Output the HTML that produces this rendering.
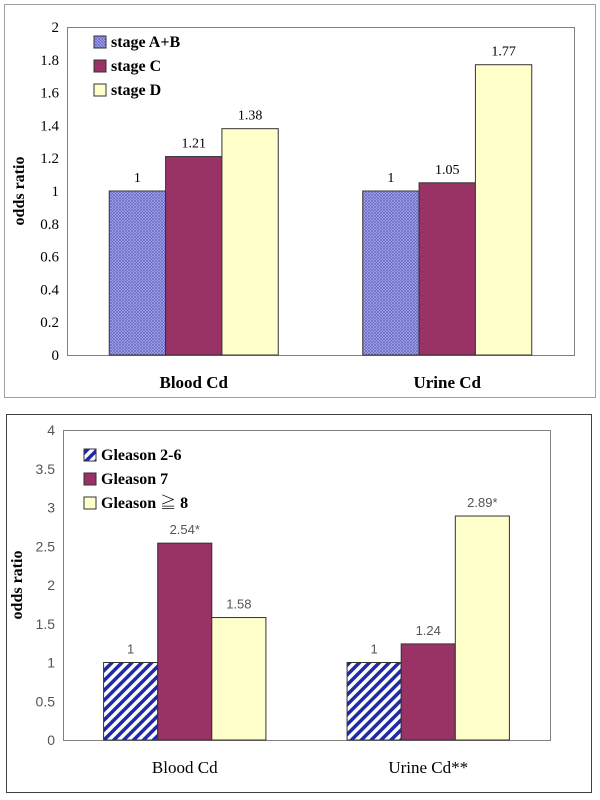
<!DOCTYPE html>
<html><head><meta charset="utf-8"><style>
html,body{margin:0;padding:0;background:#fff;}
svg{display:block;}
</style></head><body>
<svg id="c" width="600" height="800" viewBox="0 0 600 800" xmlns="http://www.w3.org/2000/svg">
<defs>
<pattern id="cross" width="3" height="3" patternUnits="userSpaceOnUse">
<rect width="3" height="3" fill="#b4b4f0"/>
<path d="M0,0 L3,3 M3,0 L0,3" stroke="#6b6bc8" stroke-width="0.8"/>
</pattern>
<pattern id="diag" width="7" height="7" patternUnits="userSpaceOnUse" patternTransform="rotate(45)">
<rect width="7" height="7" fill="#fff"/>
<rect width="3.5" height="7" fill="#1e2aa8"/>
</pattern>
</defs>
<rect x="4.5" y="4.5" width="591" height="393" fill="#fff" stroke="#a0a0a0"/>
<rect x="6.5" y="414.5" width="585" height="378" fill="#fff" stroke="#404040"/>
<g id="top"></g>
<g id="bot"></g>
</svg>
<script>
const categories = ["Blood Cd", "Urine Cd"];
const topSeriesNames = ["stage A+B", "stage C", "stage D"];
const topStageAB = [1, 1];
const topStageC = [1.21, 1.05];
const topStageD = [1.38, 1.77];
const topTicks = ["0","0.2","0.4","0.6","0.8","1","1.2","1.4","1.6","1.8","2"];

const botCategories = ["Blood Cd", "Urine Cd**"];
const botSeriesNames = ["Gleason 2-6", "Gleason 7", "Gleason \u2267 8"];
const botG26 = [1, 1];
const botG7 = [2.54, 1.24];
const botG8 = [1.58, 2.89];
const botLabels7 = ["2.54*", "1.24"];
const botLabels8 = ["1.58", "2.89*"];
const botTicks = ["0","0.5","1","1.5","2","2.5","3","3.5","4"];

const NS = "http://www.w3.org/2000/svg";
function mk(parent, tag, attrs, text){
  const e = document.createElementNS(NS, tag);
  for (const k in attrs) e.setAttribute(k, attrs[k]);
  if (text !== undefined) e.textContent = text;
  parent.appendChild(e);
  return e;
}

function drawChart(g, o){
  const {L,R,T,B,max,ticks,cats,series,fills,names,labels,tickFont,tickColor,tickSize,valSize,catBold,legX,legY,legGap,legFont,legBold,titleX,prefix} = o;
  const y = v => B - v / max * (B - T);
  const gw = (R - L) / cats.length;
  const bw = gw / 4.5;
  const frame = mk(g, "rect", {x:L+0.5, y:T+0.5, width:R-L, height:B-T, fill:"#fff", stroke:"#808080"});
  
  
  ticks.forEach(t => {
    const v = parseFloat(t);
    const tx = mk(g, "text", {x:L-8, y:y(v)+5, "text-anchor":"end", "font-family":tickFont, "font-size":tickSize, fill:tickColor}, t);
    
    
  });
  const yt = mk(g, "text", {x:titleX, y:(T+B)/2, transform:`rotate(-90 ${titleX} ${(T+B)/2})`, "text-anchor":"middle", "font-family":"Liberation Serif, serif", "font-size":"16", "font-weight":"bold", fill:"#000"}, "odds ratio");
  
  
  cats.forEach((c, i) => {
    const cx = L + gw * (i + 0.5);
    series.forEach((s, j) => {
      const x = cx - 1.5 * bw + j * bw;
      const r = mk(g, "rect", {x:x, y:y(s[i]), width:bw, height:B - y(s[i]), fill:fills[j], stroke:"#333", "stroke-width":"1"});
      
      
      const lt = mk(g, "text", {x:x + bw/2, y:y(s[i]) - 9, "text-anchor":"middle", "font-family":tickFont, "font-size":valSize, fill:tickColor}, labels[j][i]);
      
      
    });
    const ct = mk(g, "text", {x:cx, y:B + 33, "text-anchor":"middle", "font-family":"Liberation Serif, serif", "font-size":"17", "font-weight":catBold ? "bold" : "normal", fill:"#000"}, c);
    
    
  });
  names.forEach((n, j) => {
    const ly = legY + j * legGap;
    const sw = mk(g, "rect", {x:legX, y:ly - 11, width:12, height:12, fill:fills[j], stroke:"#333"});
    
    
    const lt = mk(g, "text", {x:legX + 17, y:ly, "font-family":"Liberation Serif, Noto Serif CJK SC, serif", "font-size":legFont, "font-weight":legBold ? "bold" : "normal", fill:"#000"}, n);
    
    
  });
}

drawChart(document.getElementById("top"), {
  L:67, R:574, T:27, B:355, max:2, ticks:topTicks, cats:categories,
  series:[topStageAB, topStageC, topStageD], fills:["url(#cross)", "#993366", "#ffffcc"],
  names:topSeriesNames,
  labels:[topStageAB.map(String), topStageC.map(String), topStageD.map(String)],
  tickFont:"Liberation Serif, serif", tickColor:"#000", tickSize:"15", valSize:"14", catBold:true,
  legX:94, legY:47, legGap:24, legFont:"16", legBold:true, titleX:24, prefix:"top"
});
drawChart(document.getElementById("bot"), {
  L:63, R:550, T:430, B:740, max:4, ticks:botTicks, cats:botCategories,
  series:[botG26, botG7, botG8], fills:["url(#diag)", "#993366", "#ffffcc"],
  names:botSeriesNames,
  labels:[botG26.map(String), botLabels7, botLabels8],
  tickFont:"Liberation Sans, sans-serif", tickColor:"#555", tickSize:"14", valSize:"13", catBold:false,
  legX:84, legY:460, legGap:24, legFont:"16", legBold:true, titleX:22, prefix:"bottom"
});
</script>
</body></html>
